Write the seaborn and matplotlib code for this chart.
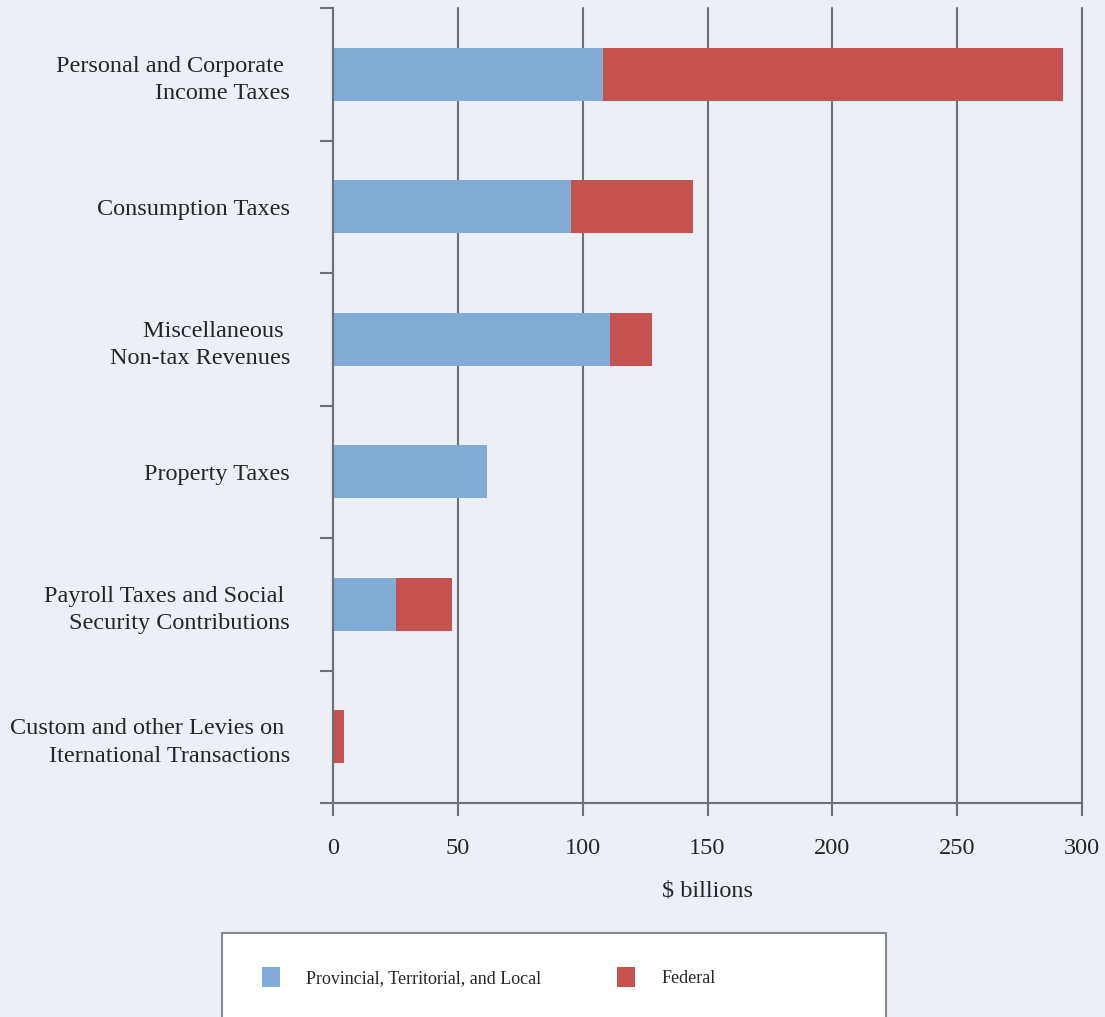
import matplotlib
matplotlib.use("Agg")
import matplotlib.pyplot as plt
import matplotlib.patches as mpatches
import seaborn as sns
import pandas as pd

# data ($ billions)
categories = [
    "Personal and Corporate \nIncome Taxes",
    "Consumption Taxes",
    "Miscellaneous \nNon-tax Revenues",
    "Property Taxes",
    "Payroll Taxes and Social \nSecurity Contributions",
    "Custom and other Levies on \nIternational Transactions",
]
provincial = [108.1, 95.3, 110.9, 61.7, 25.2, 0.0]
federal = [184.2, 48.9, 16.9, 0.0, 22.5, 4.3]
series_names = ["Provincial, Territorial, and Local", "Federal"]
x_ticks = [0, 50, 100, 150, 200, 250, 300]

bg = "#ECEFF6"
blue = "#82ABD6"
red = "#C4524F"
line_col = "#707074"

df = pd.DataFrame({"category": categories, "prov": provincial, "fed": federal})
df["total"] = df["prov"] + df["fed"]

sns.set_style("white")
plt.rcParams["font.family"] = ["Liberation Serif", "DejaVu Serif"]

fig = plt.figure(figsize=(11.05, 10.17), dpi=100, facecolor=bg)
ax = fig.add_axes([0.3014, 0.2104, 0.6778, 0.7817])
ax.set_facecolor(bg)

# stacked bars: total in red first, provincial share in blue on top
sns.barplot(data=df, x="total", y="category", color=red, width=0.4,
            saturation=1, linewidth=0, ax=ax, zorder=3)
sns.barplot(data=df, x="prov", y="category", color=blue, width=0.4,
            saturation=1, linewidth=0, ax=ax, zorder=4)

ax.set_xlim(0, 300)
ax.set_ylim(5.5, -0.5)
ax.set_xticks(x_ticks)
ax.set_xticklabels([str(t) for t in x_ticks], fontsize=17.5)
ax.grid(axis="x", color=line_col, linewidth=1.5, zorder=1)
ax.grid(axis="y", visible=False)
for gl in ax.get_xgridlines():
    gl.set_clip_on(False)

# y: labels at category centres, ticks at the band edges
ax.set_yticks(range(len(categories)))
ax.set_yticklabels(categories, fontsize=17.5, ha="right", linespacing=1.4)
ax.tick_params(axis="y", which="major", left=True, length=0, pad=31)
ax.set_yticks([i - 0.5 for i in range(len(categories) + 1)], minor=True)
ax.tick_params(axis="y", which="minor", left=True, length=9.5, width=1.5,
               color=line_col, direction="out")
ax.tick_params(axis="x", bottom=True, length=9, width=1.5, color=line_col,
               direction="out", pad=16)

for s in ["top", "right"]:
    ax.spines[s].set_visible(False)
for s in ["left", "bottom"]:
    ax.spines[s].set_color(line_col)
    ax.spines[s].set_linewidth(1.5)
    ax.spines[s].set_zorder(5)

ax.set_xlabel("$ billions", fontsize=17.5, labelpad=16)
ax.set_ylabel("")

# legend box drawn separately so the entries can sit left inside it
box = mpatches.Rectangle((0.2009, -0.01), 0.6009, 0.0926,
                         transform=fig.transFigure, facecolor="white",
                         edgecolor="#8a8a8a", linewidth=1.5)
fig.patches.append(box)

handles = [mpatches.Patch(facecolor=blue, edgecolor="none"),
           mpatches.Patch(facecolor=red, edgecolor="none")]
fig.legend(handles, series_names, loc="center left", ncol=2,
           bbox_to_anchor=(0.2371, 0.0393), fontsize=13, frameon=False,
           borderpad=0, borderaxespad=0, handlelength=1.0,
           handleheight=1.33, handletextpad=1.45, columnspacing=4.2)

plt.savefig("out.png", dpi=100, facecolor=bg)
